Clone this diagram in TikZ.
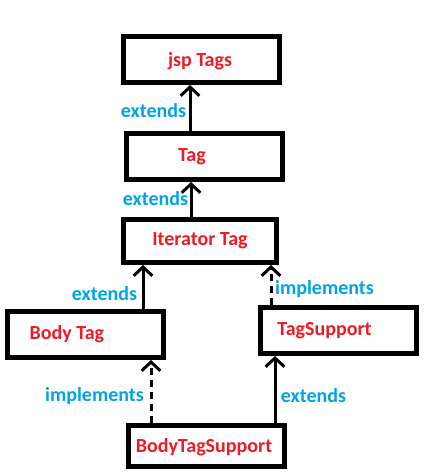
\documentclass[tikz,border=0pt]{standalone}
\usepackage{fontspec}
\setmainfont{Carlito}
\usetikzlibrary{arrows.meta}
\definecolor{namered}{RGB}{237,28,36}
\definecolor{relblue}{RGB}{0,162,232}

\begin{document}
\begin{tikzpicture}[x=0.75pt, y=-0.75pt,
    box/.style={draw, line width=3.75pt, minimum width=117pt, minimum height=34.5pt, inner sep=0pt},
    tagname/.style={text=namered, font=\bfseries\fontsize{15}{17}\selectfont},
    rel/.style={text=relblue, font=\bfseries\fontsize{15}{17}\selectfont},
    extends/.style={line width=2.25pt, -{Straight Barb[length=6.5pt,width=14pt]}},
    implements/.style={extends, dash pattern=on 5pt off 4pt}]
    \useasboundingbox (0,0) rectangle (427,476);
    % Draw the boxes
    \node[box, label={[tagname, xshift=-1.1pt, yshift=-1.5pt]center:jsp Tags}] (jsp) at (201.5,59.5) {};
    \node[box, label={[tagname, xshift=-9.4pt]center:Tag}] (tag) at (204.5,156.5) {};
    \node[box, minimum width=114.75pt, minimum height=32.25pt,
          label={[tagname]center:Iterator Tag}] (iter) at (200,241) {};
    \node[box, label={[tagname, xshift=-13.9pt]center:Body Tag}] (body) at (85.5,334.5) {};
    \node[box, label={[tagname, xshift=-10.5pt]center:TagSupport}] (support) at (338.5,330.5) {};
    \node[box, minimum height=30.75pt,
          label={[tagname, xshift=-1.9pt, yshift=-1pt]center:BodyTagSupport}] (bodysupport) at (206.5,446) {};
    % Draw the connectors
    \draw[extends] (tag.north -| 190,0) -- (jsp.south -| 190,0);
    \draw[extends] (iter.north -| 191,0) -- (tag.south -| 191,0);
    \draw[extends] (body.north -| 143,0) -- (iter.south -| 143,0);
    \draw[implements] (support.north -| 271,0) -- (iter.south -| 271,0);
    \draw[implements] (bodysupport.north -| 151,0) -- (body.south -| 151,0);
    \draw[extends] (bodysupport.north -| 275,0) -- (support.south -| 275,0);
    % Draw the relation labels
    \node[rel] (ext1) at (153.5,111) {extends};
    \node[rel] (ext2) at (155.5,199) {extends};
    \node[rel] (ext3) at (104.5,294) {extends};
    \node[rel] (impl1) at (324.5,289) {implements};
    \node[rel] (impl2) at (94.5,396) {implements};
    \node[rel] (ext4) at (313.5,396) {extends};
\end{tikzpicture}
\end{document}
